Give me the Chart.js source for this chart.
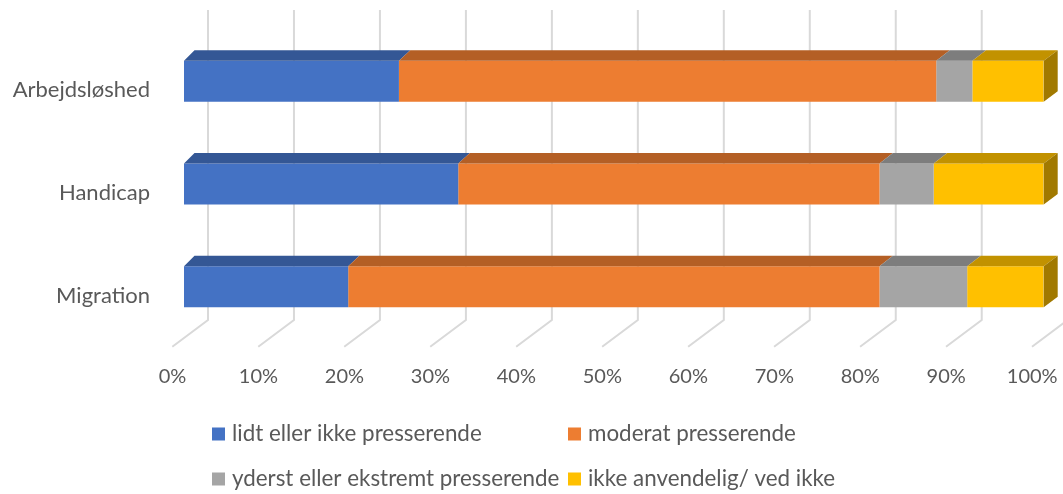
<!DOCTYPE html>
<html>
<head>
<meta charset="utf-8">
<script src="https://cdn.jsdelivr.net/npm/chart.js@4.4.0/dist/chart.umd.min.js"></script>
<style>body{margin:0;background:#fff}</style>
</head>
<body>
<canvas id="chart" width="1063" height="494"></canvas>
<script>
let categories = ['Arbejdsløshed', 'Handicap', 'Migration']
let seriesNames = ['lidt eller ikke presserende', 'moderat presserende', 'yderst eller ekstremt presserende', 'ikke anvendelig/ ved ikke']
let lidt = [25.0, 31.9, 19.1]
let moderat = [62.5, 49.0, 61.8]
let yderst = [4.2, 6.3, 10.2]
let ikke = [8.3, 12.8, 8.9]
let colors = ['#4472C4', '#ED7D31', '#A5A5A5', '#FFC000']
let topColors = ['#345795', '#B45F25', '#7D7D7D', '#C29200']
let sideColors = ['#2B4A80', '#96501E', '#686868', '#A17900']

const FONT = 'Lato'
const TXT = '#595959'

// back wall gridlines + floor lines + % labels on the floor edge (excel 3d look)
const wallPlugin = {
  id: 'wall',
  beforeDatasetsDraw(chart) {
    const ctx = chart.ctx
    const xs = chart.scales.x
    ctx.save()
    ctx.strokeStyle = '#d9d9d9'
    ctx.lineWidth = 2
    xs.ticks.forEach(t => {
      const px = xs.getPixelForValue(t.value)
      ctx.beginPath()
      ctx.moveTo(px + 24, 10)
      ctx.lineTo(px + 24, 320)
      ctx.lineTo(px - 11.7, 346.7)
      ctx.stroke()
    })
    ctx.fillStyle = TXT
    ctx.font = '20px ' + FONT
    ctx.textAlign = 'center'
    ctx.textBaseline = 'middle'
    xs.ticks.forEach(t => {
      ctx.fillText(t.value + '%', xs.getPixelForValue(t.value) - 11.5, 377)
    })
    ctx.restore()
  }
}

const depthPlugin = {
  id: 'depth',
  afterDatasetsDraw(chart) {
    const ctx = chart.ctx
    const area = chart.chartArea
    const depth = x => 10.5 + 3.5 * (x - area.left) / (area.right - area.left)
    const dy = 10.5
    const last = chart.data.datasets.length - 1
    ctx.save()
    chart.data.datasets.forEach((ds, i) => {
      chart.getDatasetMeta(i).data.forEach(bar => {
        const p = bar.getProps(['x', 'y', 'base', 'height'], true)
        const left = Math.min(p.base, p.x), right = Math.max(p.base, p.x)
        const top = p.y - p.height / 2, bottom = p.y + p.height / 2
        const dl = depth(left), dr = depth(right)
        ctx.fillStyle = topColors[i]
        ctx.beginPath()
        ctx.moveTo(left, top)
        ctx.lineTo(right, top)
        ctx.lineTo(right + dr, top - dy)
        ctx.lineTo(left + dl, top - dy)
        ctx.closePath()
        ctx.fill()
        if (i === last) {
          ctx.fillStyle = sideColors[i]
          ctx.beginPath()
          ctx.moveTo(right, top)
          ctx.lineTo(right + dr, top - dy)
          ctx.lineTo(right + dr, bottom - dy)
          ctx.lineTo(right, bottom)
          ctx.closePath()
          ctx.fill()
        }
      })
    })
    ctx.restore()
  }
}

// two column legend under the chart
const legendPlugin = {
  id: 'legend2',
  afterDraw(chart) {
    const ctx = chart.ctx
    const cols = [212, 568]
    const rows = [434, 479]
    ctx.save()
    ctx.font = '22.4px ' + FONT
    ctx.textBaseline = 'middle'
    ctx.textAlign = 'left'
    chart.data.datasets.forEach((ds, i) => {
      const x = cols[i % 2], y = rows[Math.floor(i / 2)]
      ctx.fillStyle = ds.backgroundColor
      ctx.fillRect(x, y - 6.5, 13, 13)
      ctx.fillStyle = TXT
      ctx.fillText(ds.label, x + 20, y)
    })
    ctx.restore()
  }
}

const values = [lidt, moderat, yderst, ikke]

new Chart(document.getElementById('chart').getContext('2d'), {
  type: 'bar',
  data: {
    labels: categories,
    datasets: values.map((v, i) => ({
      label: seriesNames[i],
      data: v,
      backgroundColor: colors[i],
      borderWidth: 0,
      barPercentage: 0.4,
      categoryPercentage: 1
    }))
  },
  options: {
    indexAxis: 'y',
    responsive: false,
    animation: false,
    layout: { padding: { top: 29.8, right: 19.3, left: 0, bottom: 0 } },
    plugins: { legend: { display: false }, tooltip: { enabled: false } },
    scales: {
      x: {
        stacked: true,
        min: 0,
        max: 100,
        grid: { display: false, drawTicks: false },
        border: { display: false },
        ticks: { stepSize: 10, display: false },
        afterFit: s => { s.height = 494 - 338.2; s.paddingLeft = 0; s.paddingRight = 0 }
      },
      y: {
        stacked: true,
        grid: { display: false, drawTicks: false },
        border: { display: false },
        ticks: {
          color: TXT,
          font: { family: FONT, size: 22 },
          padding: 34,
          labelOffset: 9
        },
        afterFit: s => { s.width = 184; s.paddingTop = 0; s.paddingBottom = 0 }
      }
    }
  },
  plugins: [wallPlugin, depthPlugin, legendPlugin]
})
</script>
</body>
</html>
